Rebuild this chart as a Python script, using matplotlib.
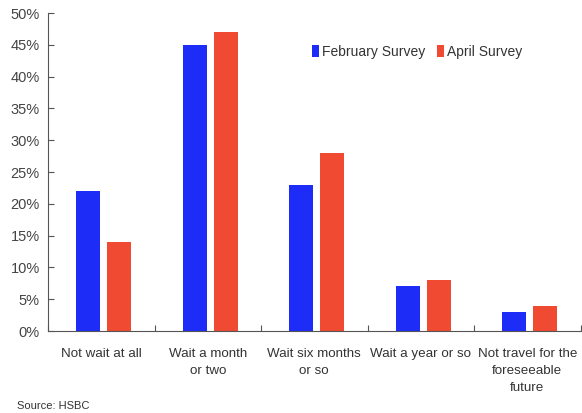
import matplotlib
matplotlib.use("Agg")
import matplotlib.pyplot as plt
import numpy as np
from matplotlib.ticker import FuncFormatter

categories = ["Not wait at all", "Wait a month\nor two", "Wait six months\nor so",
              "Wait a year or so", "Not travel for the\nforeseeable\nfuture"]
february = [22, 45, 23, 7, 3]
april = [14, 47, 28, 8, 4]

plt.rcParams['font.family'] = ['Liberation Sans', 'DejaVu Sans']

fig = plt.figure(figsize=(5.82, 4.13), dpi=100)
ax = fig.add_axes([0.0825, 0.1985, 0.915, 0.77])

x = np.arange(len(categories))
w = 0.225
ax.bar(x - 0.122, february, w, color="#1e2cf7", label="February Survey")
ax.bar(x + 0.17, april, w, color="#f04a32", label="April Survey")

ax.set_ylim(0, 50)
ax.set_xlim(-0.5, 4.5)
ax.set_yticks(np.arange(0, 51, 5))
ax.yaxis.set_major_formatter(FuncFormatter(lambda v, p: f"{v:.0f}%"))
ax.set_xticks(np.arange(-0.5, 4.6, 1.0))
ax.set_xticklabels([])
ax.set_xticks(x, minor=True)
ax.set_xticklabels(categories, minor=True, linespacing=1.55)
ax.tick_params(axis='x', which='minor', length=0, pad=12, labelsize=9.6, colors="#333333")
ax.tick_params(axis='x', which='major', length=4, direction='in', color="#555555")
ax.tick_params(axis='y', length=4, direction='in', labelsize=10.5, colors="#444444",
               color="#555555", pad=6)

for s in ["top", "right"]:
    ax.spines[s].set_visible(False)
ax.spines["left"].set_color("#555555")
ax.spines["bottom"].set_color("#555555")

ax.legend(loc="upper left", bbox_to_anchor=(0.472, 0.94), ncol=2, frameon=False,
          fontsize=10, handlelength=0.5, handleheight=0.9, handletextpad=0.2,
          columnspacing=0.9, labelcolor="#333333")

fig.text(0.03, 0.005, "Source: HSBC", fontsize=8, va="bottom", color="#333333")

fig.savefig("out.png", dpi=100)
